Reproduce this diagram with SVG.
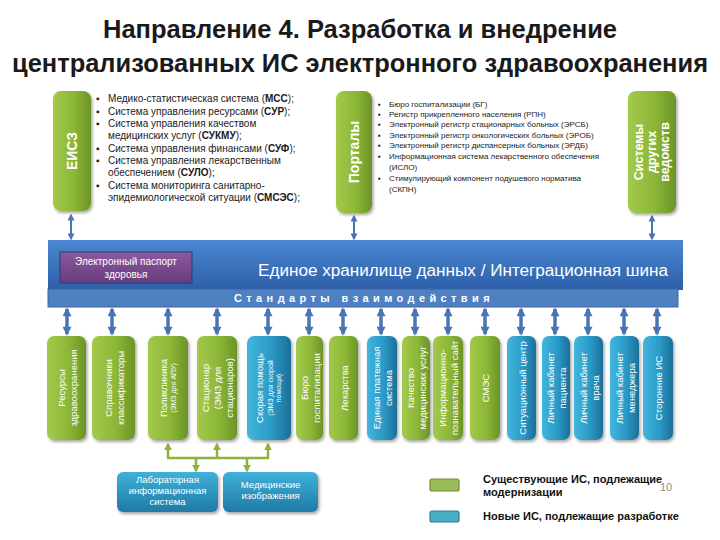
<svg xmlns="http://www.w3.org/2000/svg" width="720" height="540" viewBox="0 0 720 540">
<defs>
<linearGradient id="gH" x1="0" y1="0" x2="1" y2="0"><stop offset="0" stop-color="#a4c94c"/><stop offset="0.55" stop-color="#8cb737"/><stop offset="1" stop-color="#6b9426"/></linearGradient>
<linearGradient id="bH" x1="0" y1="0" x2="1" y2="0"><stop offset="0" stop-color="#41b6dd"/><stop offset="0.55" stop-color="#2b9ac6"/><stop offset="1" stop-color="#1b6f98"/></linearGradient>
<linearGradient id="bV" x1="0" y1="0" x2="0" y2="1"><stop offset="0" stop-color="#3fb1da"/><stop offset="1" stop-color="#1f7aa5"/></linearGradient>
<linearGradient id="band" x1="0" y1="0" x2="0" y2="1"><stop offset="0" stop-color="#4a88d2"/><stop offset="1" stop-color="#2d5fa8"/></linearGradient>
<linearGradient id="purp" x1="0" y1="0" x2="0" y2="1"><stop offset="0" stop-color="#8c5a9e"/><stop offset="1" stop-color="#693a7e"/></linearGradient>
<filter id="sh" x="-20%" y="-20%" width="140%" height="140%"><feDropShadow dx="1.5" dy="2" stdDeviation="1.5" flood-color="#000" flood-opacity="0.35"/></filter>
<marker id="ah" viewBox="0 0 10 10" refX="8" refY="5" markerWidth="10" markerHeight="9" markerUnits="userSpaceOnUse" orient="auto-start-reverse"><path d="M0,0 L10,5 L0,10 Z" fill="#4a75b5"/></marker>
<marker id="ahs" viewBox="0 0 10 10" refX="8" refY="5" markerWidth="7" markerHeight="7" markerUnits="userSpaceOnUse" orient="auto-start-reverse"><path d="M0,0 L10,5 L0,10 Z" fill="#4a75b5"/></marker>
<marker id="ag" viewBox="0 0 10 10" refX="8" refY="5" markerWidth="8" markerHeight="8" markerUnits="userSpaceOnUse" orient="auto"><path d="M0,0 L10,5 L0,10 Z" fill="#8db33a"/></marker>
<style>
text{font-family:"Liberation Sans",Arial,sans-serif}
.title{font-size:25px;font-weight:bold;fill:#1a1a1a;text-anchor:middle}
.li{font-size:10px;fill:#1a1a1a}
.lp{font-size:8px;fill:#1a1a1a}
.b{font-weight:bold}
.pill{font-size:14px;font-weight:bold;fill:#fff;text-anchor:middle}
.ct{font-size:9.5px;fill:#fff;text-anchor:middle}
.cs{font-size:7px;fill:#fff;text-anchor:middle}
.wt{fill:#fff;text-anchor:middle}
.arr{stroke:#4a75b5;stroke-width:3.5;fill:none;marker-start:url(#ah);marker-end:url(#ah)}
.arrs{stroke:#4a75b5;stroke-width:2;fill:none;marker-start:url(#ahs);marker-end:url(#ahs)}
.gl{stroke:#8db33a;stroke-width:2.5;fill:none}
.ga{stroke:#8db33a;stroke-width:2.5;fill:none;marker-end:url(#ag)}
.leg{font-size:11px;fill:#111;font-weight:bold}
</style>
</defs>
<rect width="720" height="540" fill="#fff"/>
<text class="title" x="360" y="38" textLength="514" lengthAdjust="spacingAndGlyphs">Направление 4. Разработка и внедрение</text>
<text class="title" x="360" y="72" textLength="696" lengthAdjust="spacingAndGlyphs">централизованных ИС электронного здравоохранения</text>

<g id="eisz">
<rect x="53" y="91" width="38" height="120" rx="8" fill="url(#gH)" filter="url(#sh)"/>
<text class="pill" transform="translate(72,151) rotate(-90)" x="0" y="5">ЕИСЗ</text>
</g>
<g id="eisz-list">
<text class="li" x="96" y="102">▪</text><text class="li" x="108" y="102">Медико-статистическая система (<tspan class="b">МСС</tspan>);</text>
<text class="li" x="96" y="115">▪</text><text class="li" x="108" y="115">Система управления ресурсами (<tspan class="b">СУР</tspan>);</text>
<text class="li" x="96" y="127">▪</text><text class="li" x="108" y="127">Система управления качеством</text>
<text class="li" x="108" y="139">медицинских услуг (<tspan class="b">СУКМУ</tspan>);</text>
<text class="li" x="96" y="152">▪</text><text class="li" x="108" y="152">Система управления финансами (<tspan class="b">СУФ</tspan>);</text>
<text class="li" x="96" y="164">▪</text><text class="li" x="108" y="164">Система управления лекарственным</text>
<text class="li" x="108" y="176">обеспечением (<tspan class="b">СУЛО</tspan>);</text>
<text class="li" x="96" y="189">▪</text><text class="li" x="108" y="189">Система мониторинга санитарно-</text>
<text class="li" x="108" y="201">эпидемиологической ситуации (<tspan class="b">СМСЭС</tspan>);</text>
</g>
<g id="portaly">
<rect x="336" y="91" width="36" height="122" rx="8" fill="url(#gH)" filter="url(#sh)"/>
<text class="pill" transform="translate(354,152) rotate(-90)" x="0" y="5">Порталы</text>
</g>
<g id="portaly-list">
<text class="lp" x="378" y="107">▪</text><text class="lp" x="389" y="107">Бюро госпитализации (БГ)</text>
<text class="lp" x="378" y="117">▪</text><text class="lp" x="389" y="117">Регистр прикрепленного населения (РПН)</text>
<text class="lp" x="378" y="127">▪</text><text class="lp" x="389" y="127">Электронный регистр стационарных больных (ЭРСБ)</text>
<text class="lp" x="378" y="138">▪</text><text class="lp" x="389" y="138">Электронный регистр онкологических больных (ЭРОБ)</text>
<text class="lp" x="378" y="148">▪</text><text class="lp" x="389" y="148">Электронный регистр диспансерных больных (ЭРДБ)</text>
<text class="lp" x="378" y="159">▪</text><text class="lp" x="389" y="159">Информационная система лекарственного обеспечения</text>
<text class="lp" x="389" y="170">(ИСЛО)</text>
<text class="lp" x="378" y="181">▪</text><text class="lp" x="389" y="181">Стимулирующий компонент подушевого норматива</text>
<text class="lp" x="389" y="192">(СКПН)</text>
</g>
<g id="sistemy">
<rect x="628" y="91" width="48" height="122" rx="8" fill="url(#gH)" filter="url(#sh)"/>
<g transform="translate(652,152) rotate(-90)">
<text class="pill" style="font-size:12.5px" x="0" y="-9">Системы</text>
<text class="pill" style="font-size:12.5px" x="0" y="4">других</text>
<text class="pill" style="font-size:12.5px" x="0" y="17">ведомств</text>
</g>
</g>

<g id="bus">
<rect x="48" y="240" width="635" height="50" fill="url(#band)"/>
<rect x="48" y="289" width="630" height="18" fill="#4f80c2" stroke="#3b66a6" stroke-width="1"/>
<text class="wt" x="668" y="276" style="font-size:16px;text-anchor:end" textLength="410" lengthAdjust="spacingAndGlyphs">Единое хранилище данных  / Интеграционная шина</text>
<text class="wt" x="364" y="302" style="font-size:11px;font-weight:bold;letter-spacing:4.4px">Стандарты      взаимодействия</text>
</g>
<g id="epz">
<rect x="60" y="252" width="132" height="31" fill="url(#purp)" stroke="#243f73" stroke-width="1"/>
<text class="wt" x="126" y="265" style="font-size:10px">Электронный паспорт</text>
<text class="wt" x="126" y="278" style="font-size:10px">здоровья</text>
</g>

<g id="connectors">
<line class="arrs" x1="71" y1="215" x2="71" y2="239"/>
<line class="arrs" x1="354" y1="216" x2="354" y2="239"/>
<line class="arrs" x1="652" y1="216" x2="652" y2="239"/>
<line class="arr" x1="67" y1="309" x2="67" y2="334"/>
<line class="arr" x1="112" y1="309" x2="112" y2="334"/>
<line class="arr" x1="168" y1="309" x2="168" y2="334"/>
<line class="arr" x1="217" y1="309" x2="217" y2="334"/>
<line class="arr" x1="268" y1="309" x2="268" y2="334"/>
<line class="arr" x1="309" y1="309" x2="309" y2="334"/>
<line class="arr" x1="343" y1="309" x2="343" y2="334"/>
<line class="arr" x1="381" y1="309" x2="381" y2="334"/>
<line class="arr" x1="415" y1="309" x2="415" y2="334"/>
<line class="arr" x1="448" y1="309" x2="448" y2="334"/>
<line class="arr" x1="485" y1="309" x2="485" y2="334"/>
<line class="arr" x1="521" y1="309" x2="521" y2="334"/>
<line class="arr" x1="555" y1="309" x2="555" y2="334"/>
<line class="arr" x1="588" y1="309" x2="588" y2="334"/>
<line class="arr" x1="624" y1="309" x2="624" y2="334"/>
<line class="arr" x1="657" y1="309" x2="657" y2="334"/>
<line class="gl" x1="167" y1="458" x2="269" y2="458"/>
<line class="ga" x1="168" y1="458" x2="168" y2="444"/>
<line class="ga" x1="217" y1="458" x2="217" y2="444"/>
<line class="ga" x1="268" y1="458" x2="268" y2="444"/>
<line class="ga" x1="196" y1="458" x2="196" y2="471"/>
<line class="ga" x1="247" y1="458" x2="247" y2="471"/>
</g>

<g id="c1"><rect x="47" y="336" width="39" height="104" rx="7" fill="url(#gH)" filter="url(#sh)"/>
<g transform="translate(66.5,388) rotate(-90)"><text class="ct" x="0" y="-2">Ресурсы</text><text class="ct" x="0" y="10">здравоохранения</text></g></g>
<g id="c2"><rect x="92" y="336" width="43" height="104" rx="7" fill="url(#gH)" filter="url(#sh)"/>
<g transform="translate(113.5,388) rotate(-90)"><text class="ct" x="0" y="-2">Справочники</text><text class="ct" x="0" y="10">классификаторы</text></g></g>
<g id="c3"><rect x="148" y="336" width="40" height="104" rx="7" fill="url(#gH)" filter="url(#sh)"/>
<g transform="translate(168,388) rotate(-90)"><text class="ct" x="0" y="-1">Поликлиника</text><text class="cs" x="0" y="8">(ЭМЗ для АПУ)</text></g></g>
<g id="c4"><rect x="197" y="336" width="40" height="104" rx="7" fill="url(#gH)" filter="url(#sh)"/>
<g transform="translate(217,388) rotate(-90)"><text class="ct" x="0" y="-8">Стационар</text><text class="ct" x="0" y="4">(ЭМЗ для</text><text class="ct" x="0" y="16">стационаров)</text></g></g>
<g id="c5"><rect x="247" y="336" width="44" height="104" rx="7" fill="url(#bH)" filter="url(#sh)"/>
<g transform="translate(269,388) rotate(-90)"><text class="ct" x="0" y="-6">Скорая помощь</text><text class="cs" x="0" y="4">(ЭМЗ для скорой</text><text class="cs" x="0" y="12">помощи)</text></g></g>
<g id="c6"><rect x="296" y="336" width="27" height="104" rx="7" fill="url(#gH)" filter="url(#sh)"/>
<g transform="translate(309.5,388) rotate(-90)"><text class="ct" x="0" y="-2">Бюро</text><text class="ct" x="0" y="10">госпитализации</text></g></g>
<g id="c7"><rect x="329" y="336" width="29" height="104" rx="7" fill="url(#gH)" filter="url(#sh)"/>
<g transform="translate(343.5,388) rotate(-90)"><text class="ct" x="0" y="4">Лекарства</text></g></g>
<g id="c8"><rect x="367" y="336" width="30" height="104" rx="7" fill="url(#bH)" filter="url(#sh)"/>
<g transform="translate(382,388) rotate(-90)"><text class="ct" x="0" y="-2">Единая платежная</text><text class="ct" x="0" y="10">система</text></g></g>
<g id="c9"><rect x="402" y="336" width="28" height="104" rx="7" fill="url(#gH)" filter="url(#sh)"/>
<g transform="translate(416,388) rotate(-90)"><text class="ct" x="0" y="-2">Качество</text><text class="ct" x="0" y="10">медицинских услуг</text></g></g>
<g id="c10"><rect x="433" y="336" width="30" height="104" rx="7" fill="url(#gH)" filter="url(#sh)"/>
<g transform="translate(448,388) rotate(-90)"><text class="ct" x="0" y="-2">Информационно-</text><text class="ct" x="0" y="10">познавательный сайт</text></g></g>
<g id="c11"><rect x="470" y="336" width="30" height="104" rx="7" fill="url(#gH)" filter="url(#sh)"/>
<g transform="translate(485,388) rotate(-90)"><text class="ct" x="0" y="4">СМЭС</text></g></g>
<g id="c12"><rect x="507" y="336" width="29" height="104" rx="7" fill="url(#bH)" filter="url(#sh)"/>
<g transform="translate(521.5,388) rotate(-90)"><text class="ct" x="0" y="4">Ситуационный центр</text></g></g>
<g id="c13"><rect x="542" y="336" width="28" height="104" rx="7" fill="url(#bH)" filter="url(#sh)"/>
<g transform="translate(556,388) rotate(-90)"><text class="ct" x="0" y="-2">Личный кабинет</text><text class="ct" x="0" y="10">пациента</text></g></g>
<g id="c14"><rect x="574" y="336" width="29" height="104" rx="7" fill="url(#bH)" filter="url(#sh)"/>
<g transform="translate(588.5,388) rotate(-90)"><text class="ct" x="0" y="-2">Личный кабинет</text><text class="ct" x="0" y="10">врача</text></g></g>
<g id="c15"><rect x="610" y="336" width="29" height="104" rx="7" fill="url(#bH)" filter="url(#sh)"/>
<g transform="translate(624.5,388) rotate(-90)"><text class="ct" x="0" y="-2">Личный кабинет</text><text class="ct" x="0" y="10">менеджера</text></g></g>
<g id="c16"><rect x="643" y="336" width="30" height="104" rx="7" fill="url(#bH)" filter="url(#sh)"/>
<g transform="translate(658,388) rotate(-90)"><text class="ct" x="0" y="4">Сторонние ИС</text></g></g>

<g id="lis"><rect x="117" y="472" width="101" height="40" rx="6" fill="url(#bV)" filter="url(#sh)"/>
<text class="wt" x="167.5" y="483" style="font-size:9.5px">Лабораторная</text>
<text class="wt" x="167.5" y="494" style="font-size:9.5px">информационная</text>
<text class="wt" x="167.5" y="505" style="font-size:9.5px">система</text></g>
<g id="med"><rect x="223" y="472" width="95" height="40" rx="6" fill="url(#bV)" filter="url(#sh)"/>
<text class="wt" x="270.5" y="488" style="font-size:9.5px">Медицинские</text>
<text class="wt" x="270.5" y="499" style="font-size:9.5px">изображения</text></g>

<g id="legend">
<rect x="430" y="479" width="29" height="12" rx="2" fill="#9bbb59" stroke="#6f8f33" stroke-width="1.2"/>
<rect x="430" y="511" width="29" height="11" rx="2" fill="#4bacc6" stroke="#2f7f99" stroke-width="1.2"/>
<text class="leg" x="483" y="483">Существующие ИС, подлежащие</text>
<text class="leg" x="483" y="496">модернизации</text>
<text class="leg" x="483" y="520">Новые ИС, подлежащие разработке</text>
<text x="660" y="491" style="font-size:11px;fill:#8c8c8c">10</text>
</g>
</svg>
